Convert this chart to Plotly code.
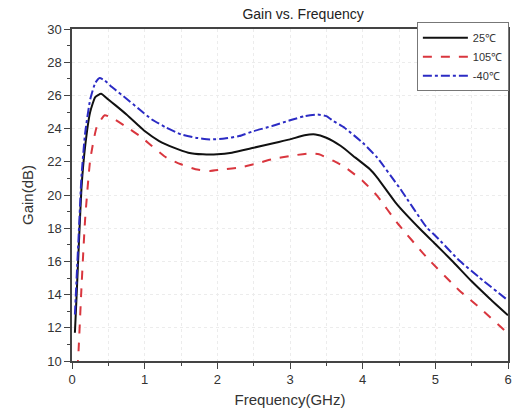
import plotly.graph_objects as go

# 25 °C
freq_25 = [0.04, 0.07, 0.09, 0.13, 0.18, 0.25, 0.32, 0.40, 0.50, 0.60, 0.75, 0.90, 1.0, 1.2, 1.4, 1.6, 1.8,
           2.0, 2.2, 2.5, 2.8, 3.0, 3.2, 3.35, 3.5, 3.7, 3.9, 4.1, 4.2, 4.47, 4.79, 5.0, 5.25, 5.5, 5.75, 6.0]
gain_25 = [11.7, 14.6, 16.6, 20.4, 22.9, 25.0, 25.9, 26.1, 25.75, 25.4, 24.85, 24.25, 23.85, 23.25, 22.85,
           22.55, 22.45, 22.45, 22.55, 22.85, 23.15, 23.35, 23.6, 23.65, 23.45, 22.95, 22.25, 21.55, 21.05,
           19.45, 17.95, 17.05, 15.95, 14.8, 13.75, 12.75]

# 105 °C
freq_105 = [0.075, 0.09, 0.13, 0.18, 0.25, 0.34, 0.45, 0.55, 0.75, 0.95, 1.1, 1.3, 1.5, 1.7, 1.9, 2.1, 2.3,
            2.5, 2.75, 3.0, 3.25, 3.4, 3.6, 3.75, 4.0, 4.2, 4.47, 4.88, 5.33, 5.6, 5.95, 6.0]
gain_105 = [9.5, 10.6, 14.4, 18.5, 22.1, 24.1, 24.8, 24.65, 24.1, 23.5, 22.95, 22.25, 21.85, 21.55, 21.45,
            21.55, 21.65, 21.85, 22.15, 22.35, 22.5, 22.45, 22.05, 21.7, 20.85, 19.95, 18.35, 16.25, 14.25,
            13.25, 11.85, 11.65]

# -40 °C
freq_m40 = [0.04, 0.07, 0.09, 0.13, 0.18, 0.25, 0.32, 0.38, 0.45, 0.55, 0.75, 0.93, 1.1, 1.3, 1.5, 1.7, 1.9,
            2.1, 2.3, 2.5, 2.75, 3.0, 3.2, 3.38, 3.5, 3.6, 3.75, 4.0, 4.2, 4.52, 4.88, 5.0, 5.33, 5.6, 6.0]
gain_m40 = [12.8, 15.6, 17.4, 21.1, 23.7, 25.75, 26.75, 27.05, 26.9, 26.5, 25.8, 25.15, 24.55, 24.05, 23.65,
            23.45, 23.35, 23.4, 23.55, 23.85, 24.15, 24.5, 24.75, 24.85, 24.75, 24.45, 24.05, 23.15, 22.25,
            20.35, 18.05, 17.55, 16.05, 15.05, 13.65]

series_names = ["25℃", "105℃", "-40℃"]

FONT = "Liberation Sans, Arial, sans-serif"

fig = go.Figure()
fig.add_trace(go.Scatter(x=freq_25, y=gain_25, mode="lines", name=series_names[0],
                         line=dict(color="#111111", width=2, shape="spline", smoothing=0.45)))
fig.add_trace(go.Scatter(x=freq_105, y=gain_105, mode="lines", name=series_names[1],
                         line=dict(color="#d9363e", width=2, dash="dash", shape="spline", smoothing=0.45)))
fig.add_trace(go.Scatter(x=freq_m40, y=gain_m40, mode="lines", name=series_names[2],
                         line=dict(color="#2b2bc4", width=2, dash="dashdot", shape="spline", smoothing=0.45)))

axis_common = dict(
    showline=True, linecolor="#444444", linewidth=1.5, mirror=True,
    ticks="outside", ticklen=6, tickwidth=1.2, tickcolor="#444444",
    tickfont=dict(family=FONT, size=13, color="#333333"),
    zeroline=False,
    gridcolor="#ececec", griddash="dot", gridwidth=1,
)

fig.update_xaxes(range=[0, 6], dtick=1, tick0=0,
                 title=dict(text="Frequency(GHz)", font=dict(family=FONT, size=15, color="#333333"), standoff=8),
                 minor=dict(dtick=0.5, ticks="outside", ticklen=3, tickcolor="#444444",
                            showgrid=True, gridcolor="#ececec", griddash="dot"),
                 **axis_common)
fig.update_yaxes(range=[10, 30], dtick=2, tick0=10,
                 title=dict(text="Gain(dB)", font=dict(family=FONT, size=15, color="#333333"), standoff=10),
                 minor=dict(dtick=1, ticks="outside", ticklen=3, tickcolor="#444444", showgrid=False),
                 **axis_common)

fig.update_layout(
    width=516, height=420,
    margin=dict(l=72, r=4, t=29, b=59),
    paper_bgcolor="white", plot_bgcolor="white",
    title=dict(text="Gain vs. Frequency", x=0.53, xref="paper", xanchor="center",
               y=0.967, yref="container", yanchor="middle",
               font=dict(family=FONT, size=14, color="#222222")),
    legend=dict(x=1.002, y=1.02, xanchor="right", yanchor="top", bgcolor="white",
                bordercolor="#777777", borderwidth=1,
                font=dict(family=FONT, size=11, color="#333333"),
                tracegroupgap=0, itemwidth=45),
    showlegend=True,
)

fig.write_html("out.html")
